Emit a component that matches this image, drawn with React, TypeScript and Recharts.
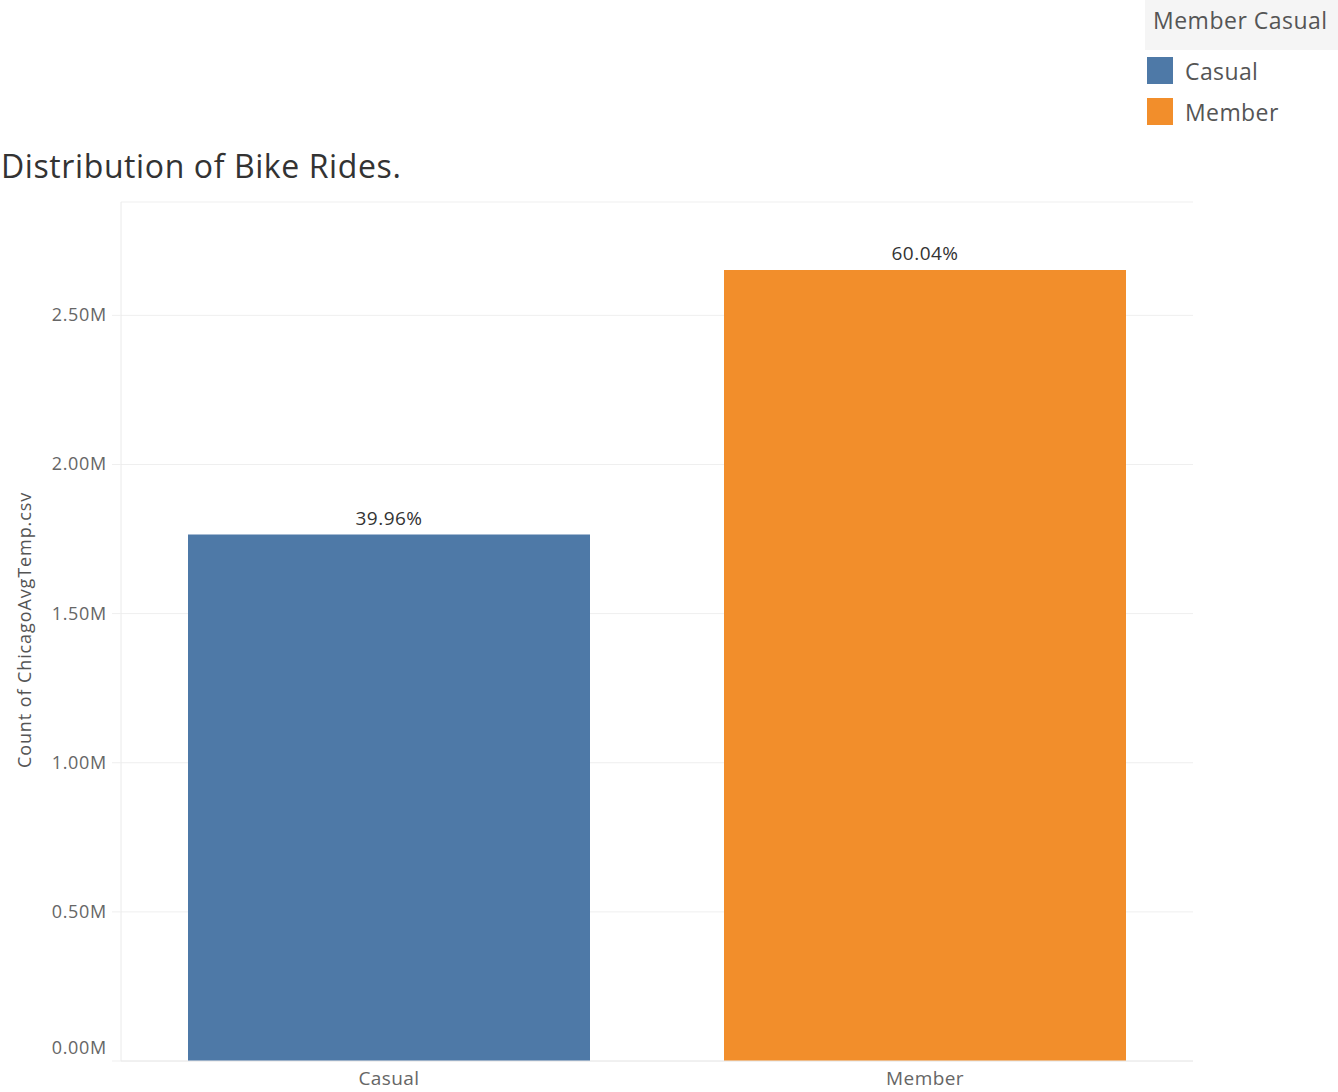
import React from 'react';
import { BarChart, Bar, XAxis, YAxis, CartesianGrid, Cell, LabelList } from 'recharts';

const categories = ['Casual', 'Member'];
const rideCounts = [1765000, 2652000];
const shareLabels = ['39.96%', '60.04%'];
const barColors = ['#4e79a7', '#f28e2b'];
const yTicks = [0, 500000, 1000000, 1500000, 2000000, 2500000];

const FONT = '"Open Sans", "Noto Sans", sans-serif';

const data = categories.map((c, i) => ({ name: c, count: rideCounts[i], share: shareLabels[i] }));

const YTick = (props: any) => {
  const { x, y, payload } = props;
  const shift = payload.value === 0 ? -13 : 0;
  return (
    <text x={x} y={y + shift} dy={6} textAnchor="end" fill="#666" fontSize={18} letterSpacing={0.7} fontFamily={FONT}>
      {(payload.value / 1000000).toFixed(2) + 'M'}
    </text>
  );
};

const YLabel = () => (
  <text
    x={31}
    y={630}
    transform="rotate(-90 31 630)"
    textAnchor="middle"
    fill="#555"
    fontSize={18}
    letterSpacing={0.9}
    fontFamily={FONT}
  >
    Count of ChicagoAvgTemp.csv
  </text>
);

export default function App() {
  return (
    <div style={{ position: 'absolute', left: 0, top: 0, width: 1338, height: 1092, background: '#fff', fontFamily: FONT }}>
      {/* legend */}
      <div style={{ position: 'absolute', left: 1145, top: 0, width: 193, height: 50, background: '#f5f5f5' }} />
      <div style={{ position: 'absolute', left: 1153, top: 4, fontSize: 23, letterSpacing: 0.5, color: '#555' }}>Member Casual</div>
      {categories.map((c, i) => (
        <div key={c} style={{ position: 'absolute', left: 1147, top: 57 + i * 41, height: 27, display: 'flex', alignItems: 'center' }}>
          <div style={{ width: 26, height: 27, background: barColors[i] }} />
          <span style={{ marginLeft: 12, fontSize: 23, letterSpacing: 0.4, color: '#555' }}>{c}</span>
        </div>
      ))}

      <div style={{ position: 'absolute', left: 1, top: 144, fontSize: 32, letterSpacing: 0.6, color: '#333' }}>
        Distribution of Bike Rides.
      </div>

      <div style={{ position: 'absolute', left: 0, top: 0 }}>
        <BarChart width={1338} height={1092} data={data} margin={{ top: 202, right: 145, bottom: 0, left: 0 }}>
          <CartesianGrid vertical={false} stroke="#efefef" />
          <XAxis
            dataKey="name"
            height={31}
            tickLine={false}
            axisLine={{ stroke: '#eaeaea' }}
            tick={{ fill: '#666', fontSize: 19, letterSpacing: 0.4, fontFamily: FONT }}
            tickMargin={5}
          />
          <YAxis
            width={121}
            domain={[0, 2880000]}
            ticks={yTicks}
            tickSize={9}
            tickMargin={5}
            tickLine={{ stroke: '#efefef' }}
            axisLine={{ stroke: '#eaeaea' }}
            tick={<YTick />}
            label={<YLabel />}
          />
          <Bar dataKey="count" barSize={402} isAnimationActive={false}>
            {data.map((d, i) => (
              <Cell key={d.name} fill={barColors[i]} />
            ))}
            <LabelList
              dataKey="share"
              position="top"
              offset={10}
              fill="#333"
              fontSize={19}
              letterSpacing={0.5}
              fontFamily={FONT}
            />
          </Bar>
        </BarChart>
      </div>
    </div>
  );
}
